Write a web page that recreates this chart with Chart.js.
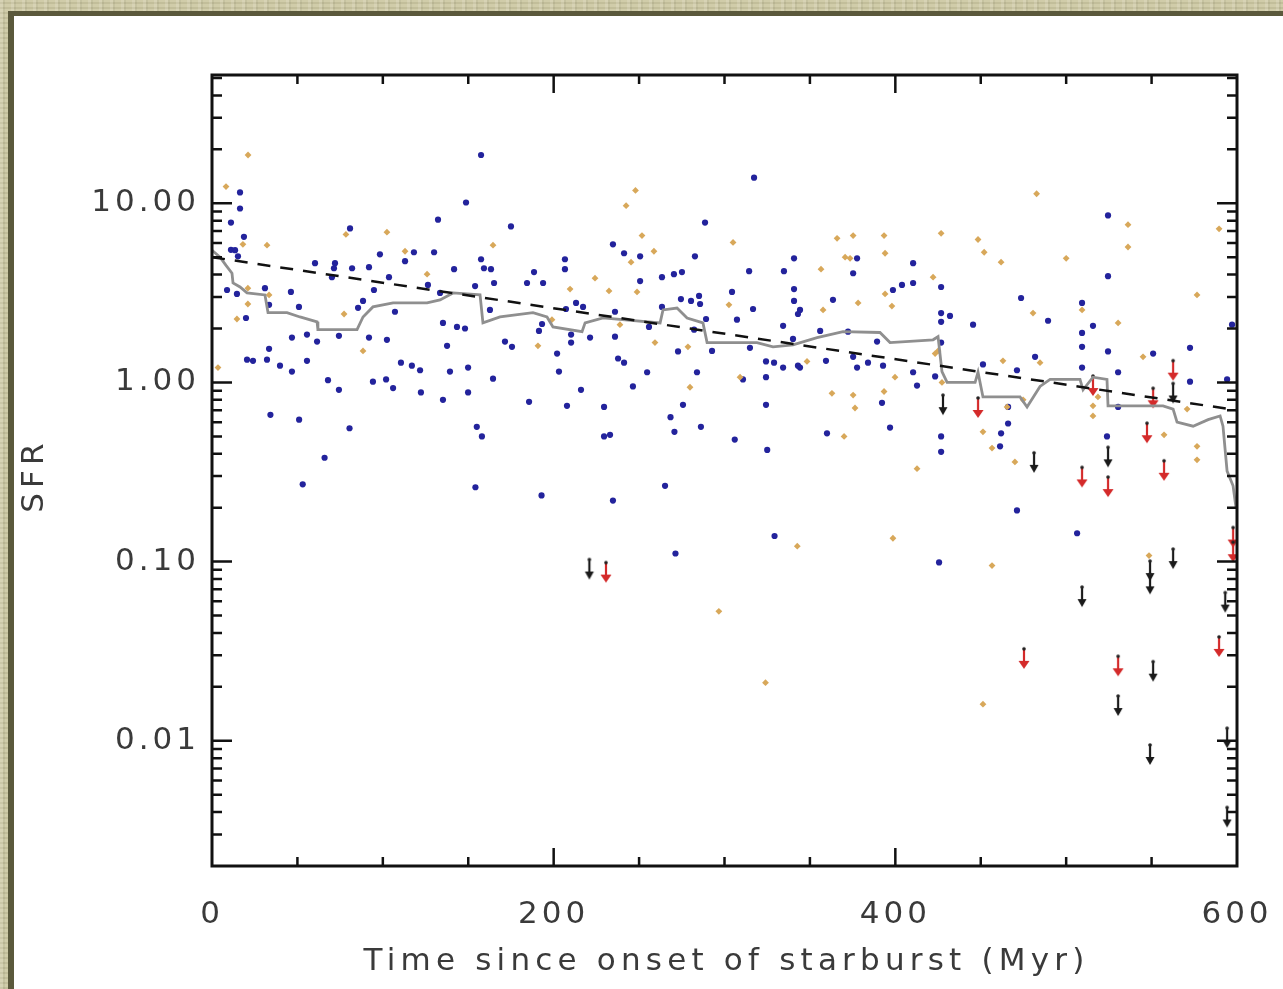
<!DOCTYPE html>
<html>
<head>
<meta charset="utf-8">
<title>SFR vs time since onset of starburst</title>
<script src="https://cdn.jsdelivr.net/npm/chart.js@4.4.1/dist/chart.umd.min.js"></script>
<style>
  html, body { margin: 0; padding: 0; width: 1283px; height: 989px; overflow: hidden; }
  body {
    background-color: #ccc8a2;
    background-image:
      repeating-linear-gradient(90deg, rgba(255,255,255,0.14) 0 3px, rgba(0,0,0,0.05) 3px 5px, rgba(255,255,255,0) 5px 11px),
      repeating-linear-gradient(0deg, rgba(0,0,0,0.05) 0 2px, rgba(255,255,255,0.08) 2px 5px);
  }
  #panel {
    position: absolute; left: 8px; top: 11px; right: -20px; bottom: -20px;
    background: #fff; border-top: 5px solid #5b593c; border-left: 6px solid #5b593c;
  }
  #wrap { position: absolute; left: 0; top: 0; width: 1283px; height: 989px; }
</style>
</head>
<body>
<div id="panel"></div>
<div id="wrap"><canvas id="sfrChart" width="1283" height="989"></canvas></div>
<script>
// SFR of individual galaxies vs time since starburst onset (log y axis)

const X_TICKS = [0, 200, 400, 600];
const Y_TICKS = [0.01, 0.1, 1, 10];
const Y_TICK_LABELS = ['0.01', '0.10', '1.00', '10.00'];

// blue points (Myr, SFR)
const blueTime = [157.5, 16.4, 16.4, 11.1, 18.7, 11.1, 13.5, 15.2, 8.8, 14.6, 19.9, 20.5, 24, 32.2, 31, 33.4, 33.4, 39.8, 46.8, 46.2,
  50.9, 46.8, 55.6, 61.5, 55.6, 67.9, 74.3, 60.3, 72, 71.4, 70.2, 80.8, 82, 91.9, 98.3, 103.6, 94.8, 88.4, 85.5, 74.3,
  91.9, 102.4, 107.1, 94.2, 101.9, 106, 110.6, 117, 121.8, 122.3, 113, 118.2, 130, 132.3, 148.7, 126.4, 133.5, 135.2, 143.4, 148.1,
  137.6, 139.3, 149.9, 135.2, 149.9, 141.7, 154, 157.5, 159.2, 163.3, 165.1, 175, 162.7, 171.5, 175.6, 164.5, 184.4, 188.5, 193.8, 193.2,
  191.4, 185.6, 317.3, 288.6, 234.7, 241.2, 250.6, 282.7, 206.6, 206.6, 250.6, 263.4, 270.4, 275.1, 314.4, 334.8, 340.7, 377.6, 375.3, 340.7,
  340.7, 344.2, 343, 363.5, 304.4, 274.5, 280.4, 285.1, 285.7, 213.1, 217.2, 207.2, 235.9, 263.4, 289.2, 307.3, 316.7, 334.3, 210.2, 210.2,
  221.3, 235.9, 255.8, 282.2, 272.8, 292.7, 314.9, 340.1, 356, 372.3, 375.3, 389.3, 202, 203.1, 237.7, 241.2, 254.7, 283.9, 216, 246.4,
  324.3, 329, 334.3, 343, 344.2, 359.4, 377.6, 384, 392.8, 310.8, 324.3, 392.2, 207.8, 229.5, 275.7, 324.3, 524.5, 524.5, 410.4, 398.6,
  403.9, 410.4, 426.8, 426.8, 432, 426.8, 445.5, 473.6, 489.4, 509.3, 515.7, 509.3, 509.3, 524.5, 426.8, 572.5, 550.9, 481.8, 451.3, 471.2,
  509.3, 410.4, 412.7, 423.3, 530.4, 572.5, 594.2, 597.1, 396.9, 466, 466, 461.9, 461.3, 426.8, 426.8, 523.9, 530.4, 471.2, 506.4, 425.6,
  34.2, 51, 80.5, 65.9, 53.1, 154.2, 192.9, 234.7, 265.2, 155, 158, 229.5, 233, 329.3, 271.3, 325, 306, 360, 268.4, 270.7, 286.2];
const blueSfr = [18.6, 11.5, 9.35, 7.8, 6.5, 5.5, 5.47, 5.06, 3.28, 3.12, 2.29, 1.34, 1.32, 1.34, 3.36, 2.71, 1.54, 1.24, 1.15, 3.2,
  2.64, 1.78, 1.85, 1.69, 1.32, 1.03, 0.91, 4.63, 4.63, 4.34, 3.87, 7.24, 4.34, 4.4, 5.19, 3.87, 3.28, 2.85, 2.61, 1.82,
  1.78, 1.73, 2.48, 1.01, 1.04, 0.93, 1.29, 1.24, 1.17, 0.88, 4.75, 5.33, 5.33, 8.1, 10.1, 3.5, 3.16, 2.15, 2.04, 2.0,
  1.6, 1.15, 1.21, 0.8, 0.88, 4.29, 3.45, 4.87, 4.34, 4.29, 3.59, 7.43, 2.54, 1.69, 1.58, 1.05, 3.59, 4.13, 3.59, 2.12,
  1.94, 0.78, 13.9, 7.8, 5.9, 5.26, 5.06, 5.06, 4.87, 4.29, 3.68, 3.87, 4.02, 4.13, 4.18, 4.18, 4.93, 4.93, 4.07, 3.32,
  2.85, 2.54, 2.41, 2.89, 3.2, 2.92, 2.85, 3.04, 2.74, 2.78, 2.64, 2.57, 2.48, 2.64, 2.26, 2.24, 2.57, 2.07, 1.85, 1.67,
  1.78, 1.8, 2.04, 1.97, 1.49, 1.5, 1.56, 1.75, 1.94, 1.92, 1.39, 1.69, 1.45, 1.15, 1.36, 1.29, 1.14, 1.14, 0.91, 0.95,
  1.31, 1.29, 1.21, 1.24, 1.21, 1.32, 1.21, 1.29, 1.24, 1.04, 1.07, 0.77, 0.74, 0.73, 0.75, 0.75, 8.55, 3.92, 4.63, 3.28,
  3.5, 3.59, 3.41, 2.44, 2.35, 2.18, 2.1, 2.96, 2.21, 2.78, 2.07, 1.89, 1.58, 1.49, 1.67, 1.56, 1.45, 1.39, 1.26, 1.17,
  1.21, 1.14, 0.96, 1.08, 1.14, 1.01, 1.04, 2.1, 0.56, 0.73, 0.59, 0.52, 0.44, 0.5, 0.41, 0.5, 0.73, 0.193, 0.144, 0.099,
  0.66, 0.62, 0.555, 0.38, 0.27, 0.26, 0.234, 0.219, 0.265, 0.565, 0.5, 0.5, 0.51, 0.139, 0.111, 0.42, 0.48, 0.52, 0.64, 0.53, 0.565];

// gold points (Myr, SFR)
const goldTime = [21.1, 8.2, 18.1, 32.2, 78.4, 102.4, 113, 125.9, 164.5, 21, 21, 33.4, 14.6, 77.3, 88.4, 190.8, 3.5, 247.9, 482.7, 242.4,
  251.7, 305, 258.7, 245.3, 365.9, 375.3, 393.4, 370.6, 373.5, 394, 356.5, 224.2, 209.6, 232.4, 248.8, 394, 302.6, 357.7, 378.2, 199,
  259.3, 278.6, 348.3, 309.1, 279.8, 362.9, 375.3, 393.4, 238.8, 536.2, 536.2, 589.5, 426.8, 448.4, 452, 461.9, 500, 422.1, 398, 480.6,
  576.6, 530.4, 463, 484.7, 545, 423.3, 425, 509.3, 399.8, 427.3, 474.8, 465.4, 515.7, 515.7, 518.6, 570.8, 451.3, 456.6, 557.3, 576.6,
  576.6, 412.7, 470, 398.6, 456.6, 451.3, 548.5, 376.4, 370, 342.6, 296.7, 324];
const goldSfr = [18.6, 12.4, 5.9, 5.84, 6.7, 6.9, 5.4, 4.02, 5.84, 3.36, 2.74, 3.08, 2.26, 2.41, 1.5, 1.6, 1.21, 11.8, 11.3, 9.7,
  6.6, 6.05, 5.4, 4.69, 6.37, 6.6, 6.6, 5.0, 4.93, 5.26, 4.29, 3.82, 3.32, 3.24, 3.2, 3.12, 2.71, 2.54, 2.78, 2.24,
  1.67, 1.58, 1.31, 1.07, 0.94, 0.87, 0.85, 0.89, 2.1, 7.6, 5.7, 7.2, 6.8, 6.28, 5.33, 4.69, 4.93, 3.87, 2.67, 2.44,
  3.08, 2.15, 1.32, 1.29, 1.39, 1.45, 1.5, 2.54, 1.07, 1.0, 0.8, 0.73, 0.74, 0.65, 0.83, 0.71, 0.53, 0.43, 0.51, 0.44,
  0.37, 0.33, 0.36, 0.135, 0.095, 0.016, 0.108, 0.72, 0.5, 0.122, 0.0528, 0.0211];

// upper limits (value = top of arrow)
const limBlackTime = [220.9, 427.9, 481.2, 524.5, 562.6, 562.6, 549.1, 549.1, 509.3, 550.9, 530.4, 549.1, 594.2, 594.2, 593.1];
const limBlackSfr = [0.104, 0.86, 0.41, 0.44, 1.0, 0.119, 0.102, 0.086, 0.073, 0.028, 0.018, 0.0096, 0.0119, 0.0043, 0.068];
const limRedTime = [230.6, 448.4, 509.3, 524.5, 547.3, 557.3, 562.6, 550.9, 515.7, 597.7, 597.7, 475.3, 530.4, 589.5];
const limRedSfr = [0.10, 0.83, 0.34, 0.30, 0.60, 0.37, 1.34, 0.94, 1.1, 0.157, 0.13, 0.033, 0.030, 0.0385];

// running mean (grey step curve)
const meanTime = [0, 4.7, 8.2, 11.7, 12.3, 16.4, 20.5, 31, 32.8, 43.9, 51.5, 61.5, 62, 84.9, 88.4, 94.2, 106, 125.9, 133.5, 141.1,
  156.9, 158.6, 168.6, 187.9, 196.1, 199.6, 216.6, 218.4, 228.9, 262.3, 264, 272.2, 278.1, 287.4, 289.8, 319, 328.4, 340.1, 354.2, 369.4,
  391, 396.9, 422.1, 425, 427.3, 430.3, 446.7, 448.4, 451.3, 473, 477.1, 484.7, 490.6, 508.1, 509.9, 515.7, 523.9, 524.5, 556.7, 562.6,
  564.9, 574.3, 583.1, 590.1, 591.8, 594.2, 597.7, 599.5];
const meanSfr = [5.47, 5.0, 4.5, 4.07, 3.59, 3.41, 3.16, 3.08, 2.45, 2.45, 2.32, 2.18, 1.97, 1.97, 2.32, 2.64, 2.78, 2.78, 2.89, 3.16,
  3.08, 2.15, 2.32, 2.45, 2.32, 2.04, 1.92, 2.15, 2.29, 2.15, 2.54, 2.6, 2.29, 2.15, 1.67, 1.67, 1.58, 1.62, 1.78, 1.92,
  1.9, 1.67, 1.73, 1.8, 1.15, 1.0, 1.0, 1.14, 0.83, 0.83, 0.73, 0.95, 1.04, 1.04, 0.91, 1.07, 1.04, 0.74, 0.74, 0.71,
  0.6, 0.57, 0.62, 0.65, 0.57, 0.32, 0.265, 0.197];

// dashed exponential decline
const fitTime = [0, 600];
const fitSfr = [5.0, 0.70];

const pairs = (xs, ys) => xs.map((x, i) => ({ x: x, y: ys[i] }));

function makeArrow(color, head) {
    const c = document.createElement('canvas');
    c.width = 18; c.height = 54;
    const g = c.getContext('2d');
    g.strokeStyle = color; g.fillStyle = color; g.lineWidth = 2.2;
    g.beginPath(); g.moveTo(9, 27); g.lineTo(9, 43); g.stroke();
    g.beginPath(); g.moveTo(9 - head, 40); g.lineTo(9 + head, 40); g.lineTo(9, 48); g.closePath(); g.fill();
    g.fillStyle = '#222';
    g.beginPath(); g.arc(9, 28, 1.8, 0, Math.PI * 2); g.fill();
    return c;
}

const spacing = {
    id: 'spacing',
    beforeUpdate(chart) { chart.ctx.letterSpacing = '4px'; },
    beforeDraw(chart) { chart.ctx.letterSpacing = '4px'; }
};

const frameTicks = {
    id: 'frameTicks',
    afterDraw(chart) {
        const { ctx, chartArea: a, scales: { x, y } } = chart;
        ctx.save();
        ctx.strokeStyle = '#111';
        ctx.lineWidth = 2.5;
        ctx.beginPath();
        for (let v = 50; v < 600; v += 50) {
            const px = x.getPixelForValue(v);
            const len = v % 200 === 0 ? 18 : 9;
            ctx.moveTo(px, a.bottom); ctx.lineTo(px, a.bottom - len);
            ctx.moveTo(px, a.top); ctx.lineTo(px, a.top + len);
        }
        for (let d = -3; d <= 1; d++) {
            for (let m = 1; m <= 9; m++) {
                const v = m * Math.pow(10, d);
                if (v <= y.min || v >= y.max) continue;
                const py = y.getPixelForValue(v);
                const len = m === 1 ? 20 : 10;
                ctx.moveTo(a.left, py); ctx.lineTo(a.left + len, py);
                ctx.moveTo(a.right, py); ctx.lineTo(a.right - len, py);
            }
        }
        ctx.stroke();
        ctx.lineWidth = 3;
        ctx.strokeRect(a.left, a.top, a.right - a.left, a.bottom - a.top);

        // axis titles
        ctx.fillStyle = '#3a3a3a';
        ctx.font = '31px "DejaVu Sans"';
        ctx.letterSpacing = '5.2px';
        ctx.textAlign = 'center';
        ctx.textBaseline = 'alphabetic';
        ctx.fillText('Time since onset of starburst (Myr)', (a.left + a.right) / 2 + 2, 970);
        ctx.translate(43, (a.top + a.bottom) / 2 + 5);
        ctx.rotate(-Math.PI / 2);
        ctx.fillText('SFR', 0, 0);
        ctx.restore();
    }
};

new Chart(document.getElementById('sfrChart'), {
    type: 'scatter',
    data: {
        datasets: [
            { type: 'line', data: pairs(fitTime, fitSfr), borderColor: '#111', borderWidth: 2.5,
              borderDash: [13, 10], pointRadius: 0, fill: false },
            { type: 'line', data: pairs(meanTime, meanSfr), borderColor: '#8f8f8f', borderWidth: 2.8,
              pointRadius: 0, fill: false, tension: 0 },
            { data: pairs(limRedTime, limRedSfr), pointStyle: makeArrow('#d42a2a', 5.5), pointRadius: 9 },
            { data: pairs(limBlackTime, limBlackSfr), pointStyle: makeArrow('#1a1a1a', 4.5), pointRadius: 9 },
            { data: pairs(goldTime, goldSfr), pointStyle: 'rectRot', pointRadius: 3.4,
              backgroundColor: '#d8a85a', borderWidth: 0 },
            { data: pairs(blueTime, blueSfr), pointStyle: 'circle', pointRadius: 3.1,
              backgroundColor: '#23239c', borderWidth: 0 }
        ]
    },
    options: {
        responsive: false,
        devicePixelRatio: 1,
        animation: false,
        layout: { padding: { left: 0, top: 75, right: 46, bottom: 0 } },
        scales: {
            x: {
                type: 'linear', min: 0, max: 600,
                afterFit: s => { s.height = 123; s.paddingLeft = 0; s.paddingRight = 0; },
                afterBuildTicks: s => { s.ticks = X_TICKS.map(v => ({ value: v })); },
                grid: { display: false, drawTicks: false, tickLength: 0 },
                border: { display: false },
                ticks: { color: '#3a3a3a', font: { family: 'DejaVu Sans', size: 31 }, padding: 30,
                         maxRotation: 0, autoSkip: false, callback: v => String(v) }
            },
            y: {
                type: 'logarithmic', min: 0.002, max: 52,
                afterFit: s => { s.width = 212; s.paddingTop = 0; s.paddingBottom = 0; },
                afterBuildTicks: s => { s.ticks = Y_TICKS.map(v => ({ value: v })); },
                grid: { display: false, drawTicks: false, tickLength: 0 },
                border: { display: false },
                ticks: { color: '#3a3a3a', font: { family: 'DejaVu Sans', size: 31 }, padding: 12,
                         autoSkip: false,
                         callback: v => { const i = Y_TICKS.findIndex(t => Math.abs(t - v) / t < 1e-6); return i >= 0 ? Y_TICK_LABELS[i] : ''; } }
            }
        },
        plugins: { legend: { display: false }, tooltip: { enabled: false } }
    },
    plugins: [spacing, frameTicks]
});
</script>
</body>
</html>
